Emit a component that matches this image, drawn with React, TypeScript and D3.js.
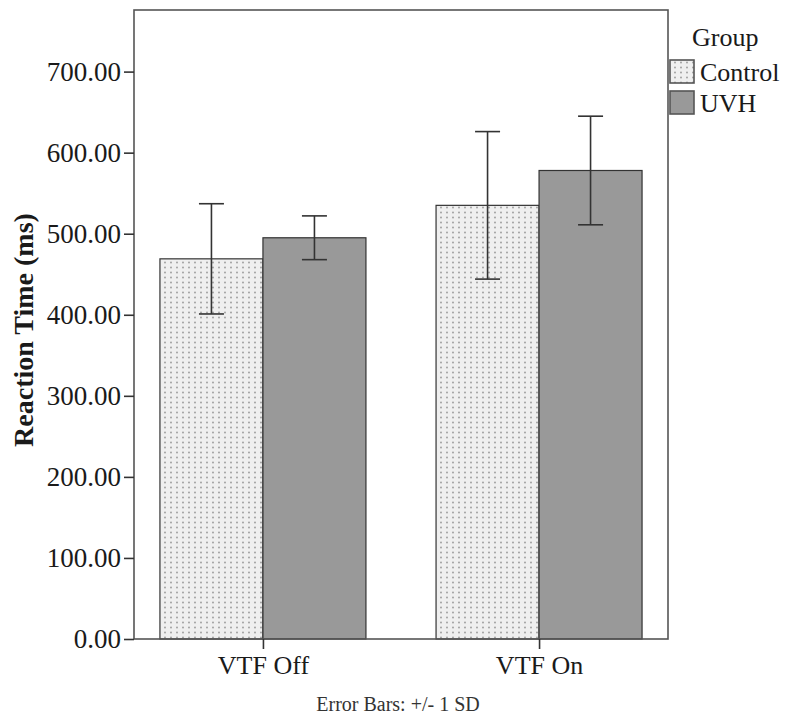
import { useRef, useEffect } from 'react';
import * as d3 from 'd3';

const categories = ['VTF Off', 'VTF On'];
const groups = ['Control', 'UVH'];
const controlMeans = [469, 535];
const controlSD = [68, 91];
const uvhMeans = [495, 578];
const uvhSD = [27, 67];
const yTicks = [0, 100, 200, 300, 400, 500, 600, 700];

const width = 788;
const height = 719;

export default function App() {
  const svgRef = useRef<SVGSVGElement>(null);

  useEffect(() => {
    if (!svgRef.current) return;
    const svg = d3.select(svgRef.current);
    svg.selectAll('*').remove();

    const margin = { top: 10, right: 120, bottom: 80, left: 134 };
    const x0 = margin.left;
    const x1 = width - margin.right;
    const y0 = height - margin.bottom;
    const font = '"Liberation Serif", "Times New Roman", Times, serif';

    const yScale = d3.scaleLinear().domain([0, 776]).range([y0, margin.top]);
    const xScale = d3.scalePoint<string>().domain(categories).range([x0, x1]).padding(0.467);
    const barW = 103;

    // dotted pattern for Control
    const defs = svg.append('defs');
    const pat = defs.append('pattern')
      .attr('id', 'dots')
      .attr('patternUnits', 'userSpaceOnUse')
      .attr('width', 6)
      .attr('height', 5);
    pat.append('rect').attr('width', 6).attr('height', 5).attr('fill', '#efefef');
    pat.append('circle').attr('cx', 3).attr('cy', 2.5).attr('r', 0.9).attr('fill', '#999');

    const rows = categories.map((c, i) => [
      { cat: c, group: groups[0], mean: controlMeans[i], sd: controlSD[i], offset: -barW },
      { cat: c, group: groups[1], mean: uvhMeans[i], sd: uvhSD[i], offset: 0 },
    ]).flat();

    // bars
    svg.selectAll('rect.bar')
      .data(rows)
      .enter()
      .append('rect')
      .attr('class', 'bar')
      .attr('x', d => (xScale(d.cat) as number) + d.offset)
      .attr('y', d => yScale(d.mean))
      .attr('width', barW)
      .attr('height', d => y0 - yScale(d.mean))
      .attr('fill', d => d.group === 'Control' ? 'url(#dots)' : '#999999')
      .attr('stroke', '#333')
      .attr('stroke-width', 1.2);

    // error bars
    const cap = 12.5;
    rows.forEach(d => {
      const cx = (xScale(d.cat) as number) + d.offset + barW / 2;
      const top = yScale(d.mean + d.sd);
      const bot = yScale(d.mean - d.sd);
      const g = svg.append('g').attr('stroke', '#333').attr('stroke-width', 1.6);
      g.append('line').attr('x1', cx).attr('x2', cx).attr('y1', top).attr('y2', bot);
      g.append('line').attr('x1', cx - cap).attr('x2', cx + cap).attr('y1', top).attr('y2', top);
      g.append('line').attr('x1', cx - cap).attr('x2', cx + cap).attr('y1', bot).attr('y2', bot);
    });

    // frame
    svg.append('rect')
      .attr('x', x0)
      .attr('y', margin.top)
      .attr('width', x1 - x0)
      .attr('height', y0 - margin.top)
      .attr('fill', 'none')
      .attr('stroke', '#555')
      .attr('stroke-width', 1.6);

    // y axis
    const yAxis = svg.append('g')
      .attr('transform', `translate(${x0},0)`)
      .call(d3.axisLeft(yScale).tickValues(yTicks).tickSize(10).tickPadding(3).tickFormat(d => (d as number).toFixed(2)));
    yAxis.select('.domain').remove();
    yAxis.selectAll('line').attr('stroke', '#333').attr('stroke-width', 1.6);
    yAxis.selectAll('text')
      .attr('font-family', font)
      .attr('font-size', 27)
      .attr('fill', '#1a1a1a');

    // x axis
    const xAxis = svg.append('g')
      .attr('transform', `translate(0,${y0})`)
      .call(d3.axisBottom(xScale).tickSize(10).tickPadding(7));
    xAxis.select('.domain').remove();
    xAxis.selectAll('line').attr('stroke', '#333').attr('stroke-width', 1.6);
    xAxis.selectAll('text')
      .attr('font-family', font)
      .attr('font-size', 26)
      .attr('fill', '#1a1a1a');

    // y title
    svg.append('text')
      .attr('transform', `translate(33,330) rotate(-90)`)
      .attr('text-anchor', 'middle')
      .attr('font-family', font)
      .attr('font-weight', 'bold')
      .attr('font-size', 28)
      .attr('fill', '#1a1a1a')
      .text('Reaction Time (ms)');

    // footnote
    svg.append('text')
      .attr('x', 398)
      .attr('y', 711)
      .attr('text-anchor', 'middle')
      .attr('font-family', font)
      .attr('font-size', 20)
      .attr('fill', '#333')
      .text('Error Bars: +/- 1 SD');

    // legend
    const lg = svg.append('g');
    lg.append('text')
      .attr('x', 692)
      .attr('y', 46)
      .attr('font-family', font)
      .attr('font-size', 26)
      .attr('fill', '#1a1a1a')
      .text('Group');
    groups.forEach((gName, i) => {
      const yy = 60 + i * 31;
      lg.append('rect')
        .attr('x', 670)
        .attr('y', yy)
        .attr('width', 24)
        .attr('height', 23)
        .attr('fill', gName === 'Control' ? 'url(#dots)' : '#999999')
        .attr('stroke', '#555')
        .attr('stroke-width', 1.6);
      lg.append('text')
        .attr('x', 700)
        .attr('y', yy + 21)
        .attr('font-family', font)
        .attr('font-size', 26)
        .attr('fill', '#1a1a1a')
        .text(gName);
    });
  }, []);

  return (
    <svg
      ref={svgRef}
      width={width}
      height={height}
      style={{ position: 'absolute', left: 0, top: 0, background: '#fff' }}
    />
  );
}
